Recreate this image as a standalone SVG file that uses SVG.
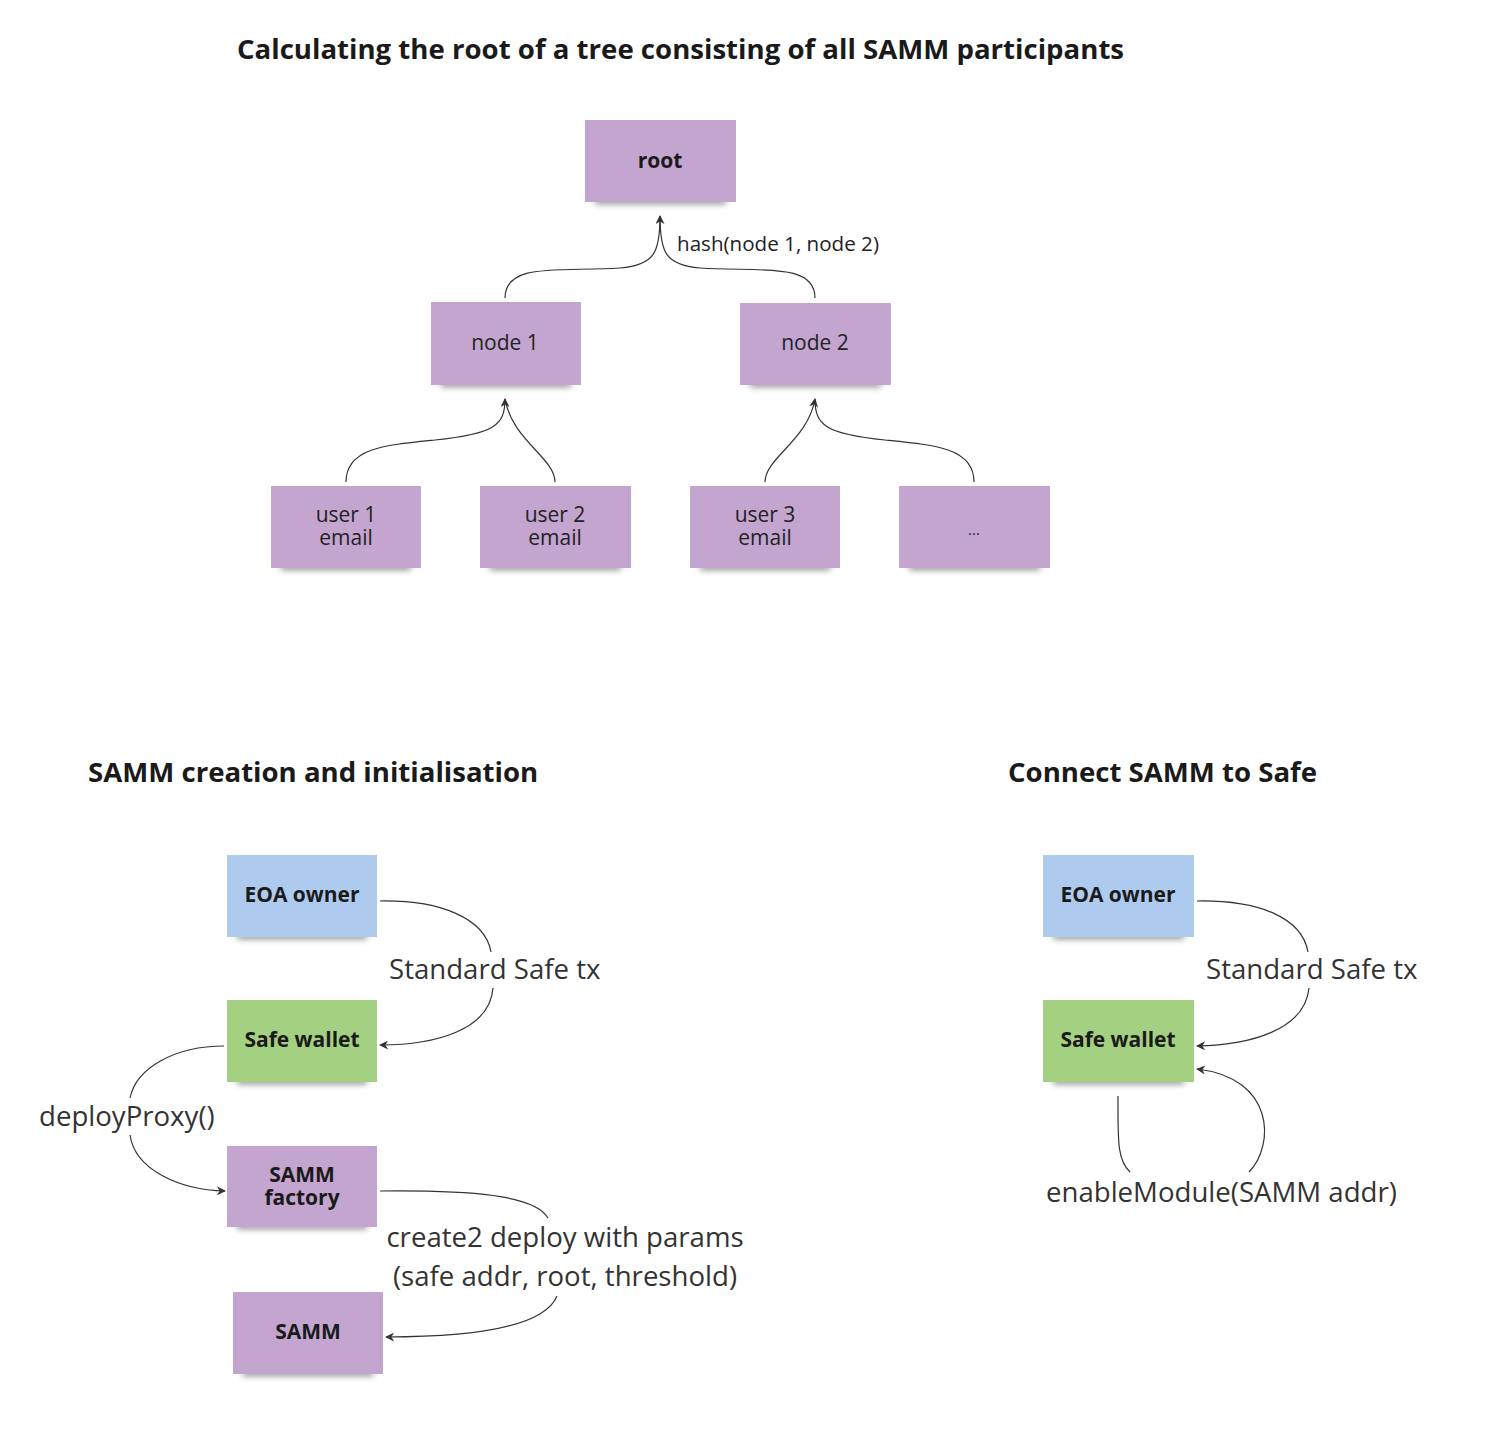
<svg xmlns="http://www.w3.org/2000/svg" width="1490" height="1456" viewBox="0 0 1490 1456">
<style>
.title{font-family:"Open Sans","Liberation Sans",sans-serif;font-weight:700;font-size:27.6px;fill:#1a1a1a}
.nt{font-family:"Open Sans","Liberation Sans",sans-serif;font-size:21px;fill:#222;text-anchor:middle}
.nb{font-family:"Open Sans","Liberation Sans",sans-serif;font-size:21px;font-weight:700;fill:#1a1a1a;text-anchor:middle}
.lbl{font-family:"Open Sans","Liberation Sans",sans-serif;font-size:27.6px;fill:#333}
.lbs{font-family:"Open Sans","Liberation Sans",sans-serif;font-size:20.6px;fill:#222}
.purple{fill:#c3a5d0}
.blue{fill:#aecbef}
.green{fill:#a4d081}
.sh{fill:#000;opacity:0.45;filter:url(#blur)}
.con{fill:none;stroke:#333;stroke-width:1.2}
</style>
<defs>
<filter id="blur" x="-20%" y="-200%" width="140%" height="500%"><feGaussianBlur stdDeviation="3"/></filter>
<marker id="ah" viewBox="0 0 10 10" refX="9" refY="5" markerWidth="9" markerHeight="9" markerUnits="userSpaceOnUse" orient="auto"><path d="M0,0 L10,5 L0,10 L3,5 Z" fill="#333"/></marker>
</defs>
<rect width="1490" height="1456" fill="#fff"/>
<text class="title" x="237" y="59">Calculating the root of a tree consisting of all SAMM participants</text>
<text class="title" x="88" y="782">SAMM creation and initialisation</text>
<text class="title" x="1008" y="782">Connect SAMM to Safe</text>

<g id="root"><rect class="sh" x="595" y="198" width="131" height="6"/><rect class="purple" x="585" y="120" width="151" height="82"/><text class="nb" x="660" y="168">root</text></g>
<g id="node1"><rect class="sh" x="441" y="381" width="130" height="6"/><rect class="purple" x="431" y="302" width="150" height="83"/><text class="nt" x="505" y="350">node 1</text></g>
<g id="node2"><rect class="sh" x="750" y="381" width="131" height="6"/><rect class="purple" x="740" y="303" width="151" height="82"/><text class="nt" x="815" y="350">node 2</text></g>
<g id="user1"><rect class="sh" x="281" y="564" width="130" height="6"/><rect class="purple" x="271" y="486" width="150" height="82"/><text class="nt" x="346" y="522">user 1<tspan x="346" dy="23">email</tspan></text></g>
<g id="user2"><rect class="sh" x="490" y="564" width="131" height="6"/><rect class="purple" x="480" y="486" width="151" height="82"/><text class="nt" x="555" y="522">user 2<tspan x="555" dy="23">email</tspan></text></g>
<g id="user3"><rect class="sh" x="700" y="564" width="130" height="6"/><rect class="purple" x="690" y="486" width="150" height="82"/><text class="nt" x="765" y="522">user 3<tspan x="765" dy="23">email</tspan></text></g>
<g id="more"><rect class="sh" x="909" y="564" width="131" height="6"/><rect class="purple" x="899" y="486" width="151" height="82"/><text class="nt" x="974" y="535" style="font-size:15px">...</text></g>

<g id="eoa1"><rect class="sh" x="237" y="933" width="130" height="6"/><rect class="blue" x="227" y="855" width="150" height="82"/><text class="nb" x="302" y="902">EOA owner</text></g>
<g id="safe1"><rect class="sh" x="237" y="1078" width="130" height="6"/><rect class="green" x="227" y="1000" width="150" height="82"/><text class="nb" x="302" y="1047">Safe wallet</text></g>
<g id="factory"><rect class="sh" x="237" y="1223" width="130" height="6"/><rect class="purple" x="227" y="1146" width="150" height="81"/><text class="nb" x="302" y="1182">SAMM<tspan x="302" dy="23">factory</tspan></text></g>
<g id="samm"><rect class="sh" x="243" y="1370" width="130" height="6"/><rect class="purple" x="233" y="1292" width="150" height="82"/><text class="nb" x="308" y="1339">SAMM</text></g>

<g id="eoa2"><rect class="sh" x="1053" y="933" width="131" height="6"/><rect class="blue" x="1043" y="855" width="151" height="82"/><text class="nb" x="1118" y="902">EOA owner</text></g>
<g id="safe2"><rect class="sh" x="1053" y="1078" width="131" height="6"/><rect class="green" x="1043" y="1000" width="151" height="82"/><text class="nb" x="1118" y="1047">Safe wallet</text></g>

<g id="connectors">
<path class="con" d="M505,298 C505,262 560,272 620,268 C655,265 660,252 660,216" marker-end="url(#ah)"/>
<path class="con" d="M815,298 C815,262 760,272 700,268 C665,265 660,252 660,216"/>
<text class="lbs" x="677" y="251">hash(node 1, node 2)</text>

<path class="con" d="M346,482 C346,448 385,445 435,440 C495,434 505,425 505,399" marker-end="url(#ah)"/>
<path class="con" d="M555,482 C555,458 512,440 505,399"/>
<path class="con" d="M765,482 C765,458 808,440 815,399" marker-end="url(#ah)"/>
<path class="con" d="M974,482 C974,448 935,445 885,440 C825,434 815,425 815,399"/>

<path class="con" d="M380,901 C440,900 485,918 491,952"/>
<path class="con" d="M493,988 C490,1030 435,1045 380,1045" marker-end="url(#ah)"/>
<text class="lbl" x="389" y="979">Standard Safe tx</text>

<path class="con" d="M224,1046 C175,1046 136,1068 130,1098"/>
<path class="con" d="M130,1135 C135,1170 180,1190 225,1191" marker-end="url(#ah)"/>
<text class="lbl" x="39" y="1126">deployProxy()</text>

<path class="con" d="M380,1191 C470,1190 535,1195 548,1218"/>
<path class="con" d="M557,1296 C545,1325 480,1337 386,1337" marker-end="url(#ah)"/>
<text class="lbl" x="565" y="1247" text-anchor="middle">create2 deploy with params</text>
<text class="lbl" x="565" y="1286" text-anchor="middle">(safe addr, root, threshold)</text>

<path class="con" d="M1197,901 C1260,900 1302,918 1308,952"/>
<path class="con" d="M1309,988 C1305,1030 1250,1045 1197,1046" marker-end="url(#ah)"/>
<text class="lbl" x="1206" y="979">Standard Safe tx</text>

<path class="con" d="M1118,1096 C1118,1140 1117,1160 1130,1172"/>
<path class="con" d="M1249,1172 C1275,1145 1275,1078 1197,1069" marker-end="url(#ah)"/>
<text class="lbl" x="1046" y="1202">enableModule(SAMM addr)</text>
</g>
</svg>
